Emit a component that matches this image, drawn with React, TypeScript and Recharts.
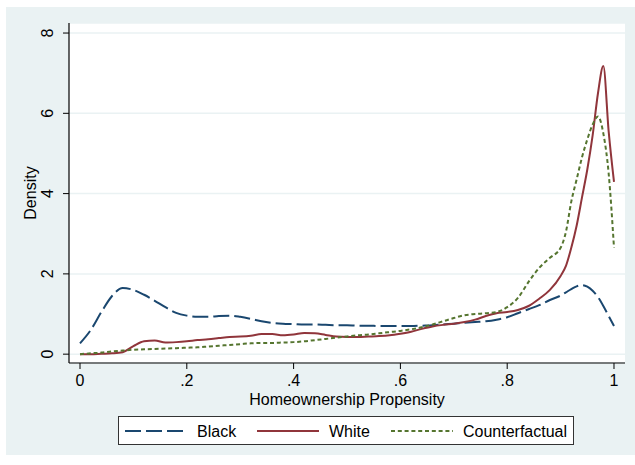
import React from 'react';
import { LineChart, Line, XAxis, YAxis, CartesianGrid } from 'recharts';

const xValues = [
  0, 0.02, 0.04, 0.06, 0.08, 0.1, 0.12, 0.14, 0.16, 0.18,
  0.2, 0.22, 0.24, 0.26, 0.28, 0.3, 0.32, 0.34, 0.36, 0.38,
  0.4, 0.42, 0.44, 0.46, 0.48, 0.5, 0.52, 0.54, 0.56, 0.58,
  0.6, 0.62, 0.64, 0.66, 0.68, 0.7, 0.72, 0.74, 0.76, 0.78,
  0.8, 0.82, 0.84, 0.86, 0.88, 0.9, 0.91, 0.92, 0.93, 0.94,
  0.95, 0.96, 0.97, 0.98, 0.99, 1.0,
];

const blackDensity = [
  0.27, 0.6, 1.05, 1.45, 1.65, 1.6, 1.48, 1.33, 1.17, 1.03,
  0.96, 0.93, 0.93, 0.95, 0.96, 0.93, 0.88, 0.82, 0.78, 0.76,
  0.75, 0.74, 0.74, 0.73, 0.72, 0.72, 0.71, 0.71, 0.7, 0.7,
  0.7, 0.7, 0.71, 0.72, 0.74, 0.76, 0.78, 0.8, 0.82, 0.86,
  0.92, 1.02, 1.12, 1.22, 1.35, 1.46, 1.54, 1.62, 1.69, 1.72,
  1.68, 1.58, 1.42, 1.2, 0.95, 0.7,
];

const whiteDensity = [
  0, 0, 0.01, 0.02, 0.05, 0.2, 0.32, 0.34, 0.29, 0.3,
  0.32, 0.35, 0.37, 0.4, 0.43, 0.44, 0.46, 0.5, 0.5, 0.47,
  0.49, 0.53, 0.52, 0.48, 0.44, 0.43, 0.43, 0.44, 0.45, 0.47,
  0.51, 0.56, 0.63, 0.69, 0.73, 0.76, 0.8, 0.86, 0.95, 1.02,
  1.05, 1.1, 1.2, 1.38, 1.6, 1.95, 2.2, 2.65, 3.2, 3.9,
  4.6, 5.45, 6.5, 7.18, 5.55, 4.29,
];

const counterfactualDensity = [
  0, 0.02, 0.04, 0.07, 0.09, 0.11, 0.12, 0.13, 0.14, 0.15,
  0.16, 0.17, 0.19, 0.21, 0.23, 0.25, 0.27, 0.28, 0.28, 0.29,
  0.3, 0.32, 0.35, 0.38, 0.41, 0.44, 0.47, 0.49, 0.52, 0.55,
  0.58, 0.62, 0.67, 0.74, 0.82, 0.9, 0.97, 1.0, 1.02, 1.05,
  1.17, 1.4, 1.8, 2.15, 2.4, 2.65, 3.05, 3.8, 4.35, 4.9,
  5.35, 5.72, 5.92, 5.5, 4.5, 2.65,
];

const xTicks = [0, 0.2, 0.4, 0.6, 0.8, 1];
const xTickLabels = ['0', '.2', '.4', '.6', '.8', '1'];
const yTicks = [0, 2, 4, 6, 8];

const seriesNames = ['Black', 'White', 'Counterfactual'];

const data = xValues.map((x, i) => ({
  x,
  black: blackDensity[i],
  white: whiteDensity[i],
  counterfactual: counterfactualDensity[i],
}));

const FONT = '"Liberation Sans", Arial, sans-serif';
const NAVY = '#1A476F';
const MAROON = '#90353B';
const GREEN = '#55752F';
const BG = '#EAF2F3';

const YTick = (props: any) => {
  const { x, y, payload } = props;
  return (
    <g transform={`translate(${x},${y})`}>
      <text
        transform="rotate(-90)"
        textAnchor="middle"
        fontFamily={FONT}
        fontSize={16}
        fill="#000"
      >
        {payload.value}
      </text>
    </g>
  );
};

const legendItems = [
  { name: seriesNames[0], color: NAVY, dash: '16 5' },
  { name: seriesNames[1], color: MAROON, dash: undefined },
  { name: seriesNames[2], color: GREEN, dash: '4 2.8' },
];

export default function App() {
  return (
    <div style={{ position: 'absolute', left: 0, top: 0, width: 635, height: 465, background: '#fff', overflow: 'hidden' }}>
      <div style={{ position: 'absolute', left: 6, top: 7, width: 629, height: 448, background: BG }} />
      <div style={{ position: 'absolute', left: 0, top: 0 }}>
        <LineChart
          width={635}
          height={465}
          data={data}
          margin={{ top: 23, right: 10, left: 0, bottom: 0 }}
        >
          <CartesianGrid
            horizontal={true}
            vertical={false}
            stroke={BG}
            strokeWidth={1.5}
            fill="#ffffff"
            fillOpacity={1}
          />
          <XAxis
            type="number"
            dataKey="x"
            domain={[-0.0206, 1.0206]}
            ticks={xTicks}
            tickFormatter={(v: number) => xTickLabels[xTicks.findIndex((t) => Math.abs(t - v) < 1e-9)]}
            height={102}
            tickSize={6}
            tickMargin={6}
            axisLine={{ stroke: '#000', strokeWidth: 1.2 }}
            tickLine={{ stroke: '#000', strokeWidth: 1 }}
            tick={{ fill: '#000', fontFamily: FONT, fontSize: 16 }}
            allowDataOverflow
            interval={0}
            label={{
              content: (p: any) => {
                const vb = p.viewBox;
                return (
                  <text
                    x={vb.x + vb.width / 2}
                    y={vb.y + 42}
                    textAnchor="middle"
                    fontFamily={FONT}
                    fontSize={16}
                    fill="#000"
                  >
                    Homeownership Propensity
                  </text>
                );
              },
            }}
          />
          <YAxis
            type="number"
            domain={[-0.22, 8.25]}
            ticks={yTicks}
            width={69}
            tickSize={6}
            tickMargin={10}
            axisLine={{ stroke: '#000', strokeWidth: 1.2 }}
            tickLine={{ stroke: '#000', strokeWidth: 1 }}
            tick={<YTick />}
            allowDataOverflow
            interval={0}
            label={{
              content: (p: any) => {
                const vb = p.viewBox;
                const cy = vb.y + vb.height / 2;
                return (
                  <text
                    x={36}
                    y={cy}
                    transform={`rotate(-90, 36, ${cy})`}
                    textAnchor="middle"
                    fontFamily={FONT}
                    fontSize={16}
                    fill="#000"
                  >
                    Density
                  </text>
                );
              },
            }}
          />
          <Line
            type="monotone"
            dataKey="black"
            name={seriesNames[0]}
            stroke={NAVY}
            strokeWidth={2}
            strokeDasharray="16 5"
            dot={false}
            isAnimationActive={false}
          />
          <Line
            type="monotone"
            dataKey="white"
            name={seriesNames[1]}
            stroke={MAROON}
            strokeWidth={2}
            dot={false}
            isAnimationActive={false}
          />
          <Line
            type="monotone"
            dataKey="counterfactual"
            name={seriesNames[2]}
            stroke={GREEN}
            strokeWidth={2}
            strokeDasharray="4 2.8"
            dot={false}
            isAnimationActive={false}
          />
        </LineChart>
      </div>
      <div
        style={{
          position: 'absolute',
          left: 118,
          top: 416,
          width: 456,
          height: 29,
          background: '#fff',
          border: '1px solid #333',
          boxSizing: 'border-box',
        }}
      >
        <svg width={456} height={29} style={{ position: 'absolute', left: 0, top: 0 }}>
          {legendItems.map((item, i) => {
            const lx = [6, 138, 272][i];
            return (
              <g key={item.name}>
                <line
                  x1={lx}
                  x2={lx + 62}
                  y1={14}
                  y2={14}
                  stroke={item.color}
                  strokeWidth={2}
                  strokeDasharray={item.dash}
                />
                <text
                  x={lx + 72}
                  y={19.5}
                  fontFamily={FONT}
                  fontSize={16}
                  fill="#000"
                >
                  {item.name}
                </text>
              </g>
            );
          })}
        </svg>
      </div>
    </div>
  );
}
